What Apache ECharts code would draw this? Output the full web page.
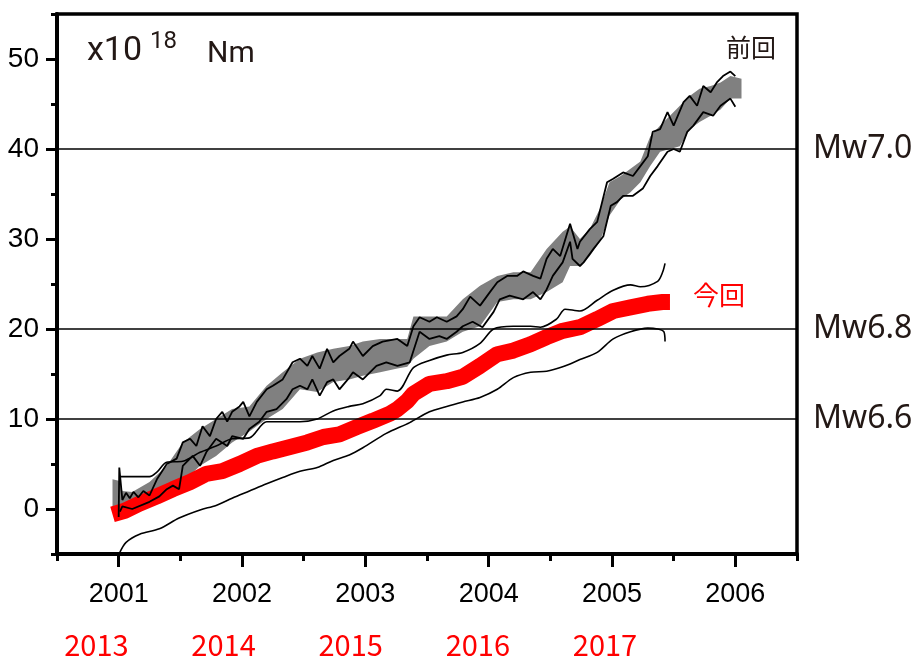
<!DOCTYPE html>
<html>
<head>
<meta charset="utf-8">
<title>モーメント積算</title>
<script src="https://cdn.jsdelivr.net/npm/echarts@6/dist/echarts.min.js"></script>
<style>
html, body { margin: 0; padding: 0; background: #fff; }
#chart { width: 923px; height: 659px; }
</style>
</head>
<body>
<div id="chart"></div>
<script>
// 目盛り (長い目盛り)
var yearTicks = [2001, 2002, 2003, 2004, 2005, 2006]
var valueTicks = [0, 10, 20, 30, 40, 50]
// 今回の年ラベル (下段・赤)
var redYearLabels = [2013, 2014, 2015, 2016, 2017]

// Mw の目安線
var mwLevels = [10, 20, 40]
var mwLabels = ['Mw6.6', 'Mw6.8', 'Mw7.0']

// 前回: 灰色の帯 (下端・上端)
var prevBandYear = [2000.95, 2001.01, 2001.03, 2001.11, 2001.25, 2001.39, 2001.52, 2001.66, 2001.79, 2001.92,
  2002.06, 2002.20, 2002.33, 2002.47, 2002.61, 2002.74, 2002.87, 2002.98, 2003.12, 2003.26,
  2003.34, 2003.39, 2003.52, 2003.66, 2003.79, 2003.93, 2004.07, 2004.20, 2004.34, 2004.47,
  2004.60, 2004.66, 2004.74, 2004.82, 2004.90, 2004.98, 2005.07, 2005.15, 2005.23, 2005.31,
  2005.39, 2005.47, 2005.55, 2005.63, 2005.71, 2005.80, 2005.88, 2005.96, 2006.05]
var prevBandLow = [-0.3, -0.3, -0.2, 0.0, 0.3, 1.9, 3.0, 4.8, 5.9, 7.4,
  8.6, 10.0, 11.1, 13.3, 13.0, 14.1, 14.4, 14.8, 15.2, 15.6,
  15.8, 16.7, 18.1, 18.6, 19.7, 20.3, 23.0, 23.3, 23.3, 24.1,
  25.2, 27.0, 27.0, 28.1, 29.7, 32.6, 34.4, 35.2, 36.3, 38.1,
  39.7, 40.0, 40.3, 42.2, 43.0, 43.7, 44.4, 45.6, 45.6]
var prevBandHigh = [3.3, 3.1, 2.0, 1.9, 3.0, 4.8, 7.4, 8.9, 10.0, 11.1,
  11.4, 13.7, 15.2, 16.7, 17.4, 17.8, 18.1, 18.6, 18.9, 18.9,
  18.9, 21.4, 21.4, 21.4, 23.3, 24.8, 25.9, 26.3, 26.3, 28.9,
  30.8, 31.4, 30.0, 31.1, 33.3, 36.3, 37.0, 37.8, 38.6, 41.4,
  42.6, 43.7, 44.8, 45.9, 46.7, 47.0, 47.4, 48.1, 47.8]

// 前回: 黒いギザギザの線 (上側・下側)
var prevUpper = [[2001.00, -0.9], [2001.005, 4.6], [2001.03, 1.0], [2001.06, 1.8], [2001.09, 1.2], [2001.12, 1.9],
  [2001.16, 1.3], [2001.20, 2.0], [2001.25, 1.5], [2001.31, 3.3], [2001.39, 5.0], [2001.47, 5.6],
  [2001.52, 7.4], [2001.58, 7.8], [2001.63, 7.0], [2001.68, 9.2], [2001.74, 8.1], [2001.79, 10.0],
  [2001.84, 10.8], [2001.88, 9.7], [2001.92, 10.8], [2001.98, 11.4], [2002.01, 11.9], [2002.06, 10.3],
  [2002.12, 11.9], [2002.20, 13.3], [2002.25, 13.7], [2002.33, 14.4], [2002.41, 16.3], [2002.47, 16.7],
  [2002.53, 15.9], [2002.57, 17.0], [2002.63, 15.6], [2002.69, 17.8], [2002.74, 16.3], [2002.79, 17.0],
  [2002.87, 17.8], [2002.90, 18.6], [2002.98, 17.0], [2003.06, 18.1], [2003.14, 18.6], [2003.26, 18.9],
  [2003.34, 18.1], [2003.39, 20.3], [2003.44, 21.3], [2003.52, 20.8], [2003.58, 21.3], [2003.66, 20.8],
  [2003.74, 21.4], [2003.79, 22.2], [2003.85, 23.6], [2003.93, 22.6], [2004.01, 24.1], [2004.07, 25.2],
  [2004.15, 25.9], [2004.23, 25.9], [2004.28, 26.4], [2004.36, 25.9], [2004.42, 25.6], [2004.47, 27.8],
  [2004.52, 28.9], [2004.58, 28.1], [2004.64, 30.8], [2004.66, 31.7], [2004.72, 28.9], [2004.74, 29.7],
  [2004.82, 31.1], [2004.88, 31.9], [2004.96, 36.3], [2005.01, 36.7], [2005.09, 37.4], [2005.17, 37.0],
  [2005.23, 38.1], [2005.29, 39.2], [2005.33, 41.9], [2005.39, 42.2], [2005.45, 44.1], [2005.50, 42.6],
  [2005.58, 45.2], [2005.63, 45.9], [2005.69, 44.8], [2005.74, 47.0], [2005.80, 46.3], [2005.85, 47.4],
  [2005.90, 48.1], [2005.96, 48.6], [2006.00, 48.1]]
var prevLower = [[2001.01, -0.3], [2001.03, 0.3], [2001.11, 0.0], [2001.25, 0.8], [2001.33, 1.4], [2001.39, 2.2],
  [2001.44, 2.6], [2001.49, 2.2], [2001.52, 4.8], [2001.60, 5.9], [2001.66, 4.8], [2001.71, 6.3],
  [2001.79, 7.8], [2001.88, 7.0], [2001.92, 8.1], [2002.01, 7.8], [2002.06, 8.9], [2002.14, 9.7],
  [2002.20, 10.8], [2002.28, 11.1], [2002.36, 12.2], [2002.41, 13.3], [2002.47, 13.7], [2002.53, 13.3],
  [2002.57, 14.4], [2002.63, 12.6], [2002.69, 14.1], [2002.74, 14.4], [2002.79, 13.3], [2002.87, 14.6],
  [2002.90, 15.2], [2002.98, 14.4], [2003.09, 15.9], [2003.17, 16.3], [2003.26, 15.9], [2003.36, 16.3],
  [2003.44, 19.7], [2003.52, 18.9], [2003.60, 19.2], [2003.66, 18.9], [2003.74, 19.7], [2003.79, 20.3],
  [2003.87, 20.8], [2003.95, 20.2], [2004.04, 21.9], [2004.09, 23.3], [2004.17, 23.7], [2004.28, 23.3],
  [2004.36, 24.1], [2004.42, 23.3], [2004.47, 24.4], [2004.52, 25.9], [2004.60, 27.4], [2004.66, 29.7],
  [2004.68, 27.8], [2004.74, 27.0], [2004.77, 27.4], [2004.85, 28.9], [2004.93, 30.3], [2004.99, 33.7],
  [2005.04, 34.1], [2005.09, 34.8], [2005.17, 34.8], [2005.25, 35.6], [2005.31, 37.0], [2005.37, 38.1],
  [2005.45, 39.7], [2005.50, 40.0], [2005.55, 39.7], [2005.61, 41.9], [2005.66, 42.6], [2005.74, 44.1],
  [2005.82, 43.7], [2005.88, 44.8], [2005.96, 45.6], [2006.00, 44.7]]

// 今回: 赤い帯の中心
var currBand = [[2000.95, -0.6], [2001.05, -0.2], [2001.17, 0.6], [2001.31, 1.4], [2001.44, 2.2], [2001.58, 3.0],
  [2001.71, 3.9], [2001.84, 4.2], [2001.98, 5.0], [2002.12, 5.9], [2002.25, 6.4], [2002.39, 6.9],
  [2002.53, 7.4], [2002.66, 8.0], [2002.79, 8.3], [2002.93, 9.1], [2003.06, 9.8], [2003.20, 10.6],
  [2003.26, 11.1], [2003.34, 12.0], [2003.39, 12.8], [2003.52, 13.9], [2003.66, 14.2], [2003.79, 14.7],
  [2003.93, 15.9], [2004.07, 17.2], [2004.20, 17.6], [2004.34, 18.3], [2004.47, 19.1], [2004.60, 19.8],
  [2004.74, 20.2], [2004.88, 21.1], [2005.01, 22.0], [2005.15, 22.4], [2005.29, 22.8], [2005.41, 23.0],
  [2005.47, 23.0]]
// 今回: 上限・下限の細線
var currUpper = [[2001.01, 3.6], [2001.25, 3.6], [2001.31, 4.1], [2001.39, 5.2], [2001.52, 5.3], [2001.66, 6.3],
  [2001.79, 7.0], [2001.92, 7.8], [2002.06, 7.9], [2002.20, 9.7], [2002.33, 9.7], [2002.47, 9.7],
  [2002.61, 10.0], [2002.74, 10.9], [2002.87, 11.4], [2002.98, 11.7], [2003.12, 12.6], [2003.17, 13.3],
  [2003.26, 13.1], [2003.39, 15.7], [2003.52, 16.5], [2003.66, 17.1], [2003.79, 17.4], [2003.93, 18.4],
  [2004.04, 20.0], [2004.20, 20.3], [2004.34, 20.3], [2004.42, 20.2], [2004.55, 21.1], [2004.62, 22.2],
  [2004.74, 22.0], [2004.88, 23.2], [2005.01, 24.3], [2005.15, 24.9], [2005.23, 24.7], [2005.37, 25.3],
  [2005.41, 26.3], [2005.43, 27.3]]
var currLower = [[2001.01, -4.8], [2001.06, -3.7], [2001.17, -2.8], [2001.33, -2.2], [2001.49, -1.0], [2001.66, -0.1],
  [2001.79, 0.4], [2001.92, 1.2], [2002.06, 2.0], [2002.20, 2.8], [2002.33, 3.5], [2002.47, 4.2],
  [2002.61, 4.6], [2002.74, 5.4], [2002.87, 6.0], [2002.98, 6.8], [2003.17, 8.4], [2003.36, 9.6],
  [2003.52, 10.8], [2003.66, 11.4], [2003.79, 11.9], [2003.93, 12.4], [2004.07, 13.3], [2004.20, 14.6],
  [2004.34, 15.2], [2004.47, 15.3], [2004.60, 15.8], [2004.74, 16.6], [2004.88, 17.4], [2005.01, 18.9],
  [2005.15, 19.7], [2005.29, 20.1], [2005.37, 20.0], [2005.42, 19.7], [2005.43, 18.6]]

var textColor = '#231815'

var chart = echarts.init(document.getElementById('chart'))

var option = {
  animation: false,
  grid: {
    left: 57,
    right: 126,
    top: 14,
    bottom: 105,
    show: true,
    borderColor: '#000',
    borderWidth: 3.5
  },
  xAxis: [{
    type: 'value',
    min: 2000.5,
    max: 2006.5,
    interval: 0.5,
    splitLine: { show: false },
    axisLine: { onZero: false, lineStyle: { color: '#000', width: 4 } },
    axisTick: { length: 7, lineStyle: { color: '#000', width: 3 } },
    axisLabel: {
      margin: 27,
      color: '#000',
      fontSize: 27,
      fontFamily: 'Liberation Sans',
      formatter: function (v) { return v % 1 === 0 ? String(v) : '' }
    }
  }, {
    // 下段の赤い年 (今回)
    type: 'value',
    position: 'bottom',
    min: 2012.69,
    max: 2018.51,
    splitLine: { show: false },
    axisLine: { show: false, onZero: false },
    axisTick: { show: false },
    axisLabel: {
      customValues: redYearLabels,
      margin: 76,
      color: '#ff0000',
      fontSize: 29,
      fontFamily: '"Noto Sans CJK JP"',
      formatter: function (v) { return redYearLabels.indexOf(v) >= 0 ? String(v) : '' }
    }
  }, {
    // 年の長い目盛り
    type: 'value',
    position: 'bottom',
    min: 2000.5,
    max: 2006.5,
    splitLine: { show: false },
    axisLine: { show: false, onZero: false },
    axisTick: { customValues: yearTicks, length: 13, lineStyle: { color: '#000', width: 3 } },
    axisLabel: { show: false }
  }],
  yAxis: [{
    type: 'value',
    min: -5,
    max: 55,
    interval: 5,
    splitLine: { show: false },
    axisLine: { onZero: false, lineStyle: { color: '#000', width: 4 } },
    axisTick: { length: 6, lineStyle: { color: '#000', width: 3 } },
    axisLabel: {
      margin: 18,
      color: '#000',
      fontSize: 28,
      fontFamily: 'Liberation Sans',
      formatter: function (v) { return v % 10 === 0 ? String(v) : '' }
    }
  }, {
    // 値の長い目盛り
    type: 'value',
    position: 'left',
    min: -5,
    max: 55,
    splitLine: { show: false },
    axisLine: { show: false, onZero: false },
    axisTick: { customValues: valueTicks, length: 11, lineStyle: { color: '#000', width: 3 } },
    axisLabel: { show: false }
  }],
  series: [
    {
      // Mw の横線 (帯の下に描く)
      type: 'line',
      z: 1,
      data: [],
      markLine: {
        silent: true,
        symbol: ['none', 'none'],
        lineStyle: { color: '#000', width: 1.6, type: 'solid' },
        label: {
          position: 'end',
          distance: 16,
          color: textColor,
          fontSize: 32,
          fontFamily: 'Noto Sans'
        },
        data: mwLevels.map(function (v, i) {
          return { yAxis: v, label: { formatter: mwLabels[i] } }
        })
      }
    },
    {
      // 前回の灰色の帯
      type: 'custom',
      z: 2,
      clip: true,
      data: [[prevBandYear[0], prevBandLow[0]]],
      renderItem: function (params, api) {
        var pts = []
        prevBandYear.forEach(function (t, i) { pts.push(api.coord([t, prevBandHigh[i]])) })
        for (var i = prevBandYear.length - 1; i >= 0; i--) {
          pts.push(api.coord([prevBandYear[i], prevBandLow[i]]))
        }
        return { type: 'polygon', shape: { points: pts }, style: { fill: '#808080' } }
      }
    },
    {
      name: '今回',
      type: 'line',
      z: 2,
      data: currBand,
      symbol: 'none',
      lineStyle: { color: '#ff0000', width: 16, cap: 'butt' }
    },
    {
      type: 'line', z: 3, data: prevUpper, symbol: 'none',
      lineStyle: { color: '#000', width: 1.8 }
    },
    {
      type: 'line', z: 3, data: prevLower, symbol: 'none',
      lineStyle: { color: '#000', width: 1.8 }
    },
    {
      type: 'line', z: 3, data: currUpper, symbol: 'none', smooth: 0.3,
      lineStyle: { color: '#000', width: 1.6 }
    },
    {
      type: 'line', z: 3, data: currLower, symbol: 'none', smooth: 0.3,
      lineStyle: { color: '#000', width: 1.6 }
    }
  ],
  graphic: [
    { type: 'text', x: 87, y: 51, style: { text: 'x10', font: '34px Roboto', fill: textColor, verticalAlign: 'middle' } },
    { type: 'text', x: 150, y: 42, style: { text: '18', font: '24px Roboto', fill: textColor, verticalAlign: 'middle' } },
    { type: 'text', x: 207, y: 54, style: { text: 'Nm', font: '30px Roboto', fill: textColor, verticalAlign: 'middle' } },
    { type: 'text', x: 726, y: 47, style: { text: '前回', font: '25px "Noto Sans CJK JP"', fill: textColor, verticalAlign: 'middle' } },
    { type: 'text', x: 693, y: 295, style: { text: '今回', font: '26px "Noto Sans CJK JP"', fill: '#ff0000', verticalAlign: 'middle' } }
  ]
}

chart.setOption(option)
</script>
</body>
</html>
